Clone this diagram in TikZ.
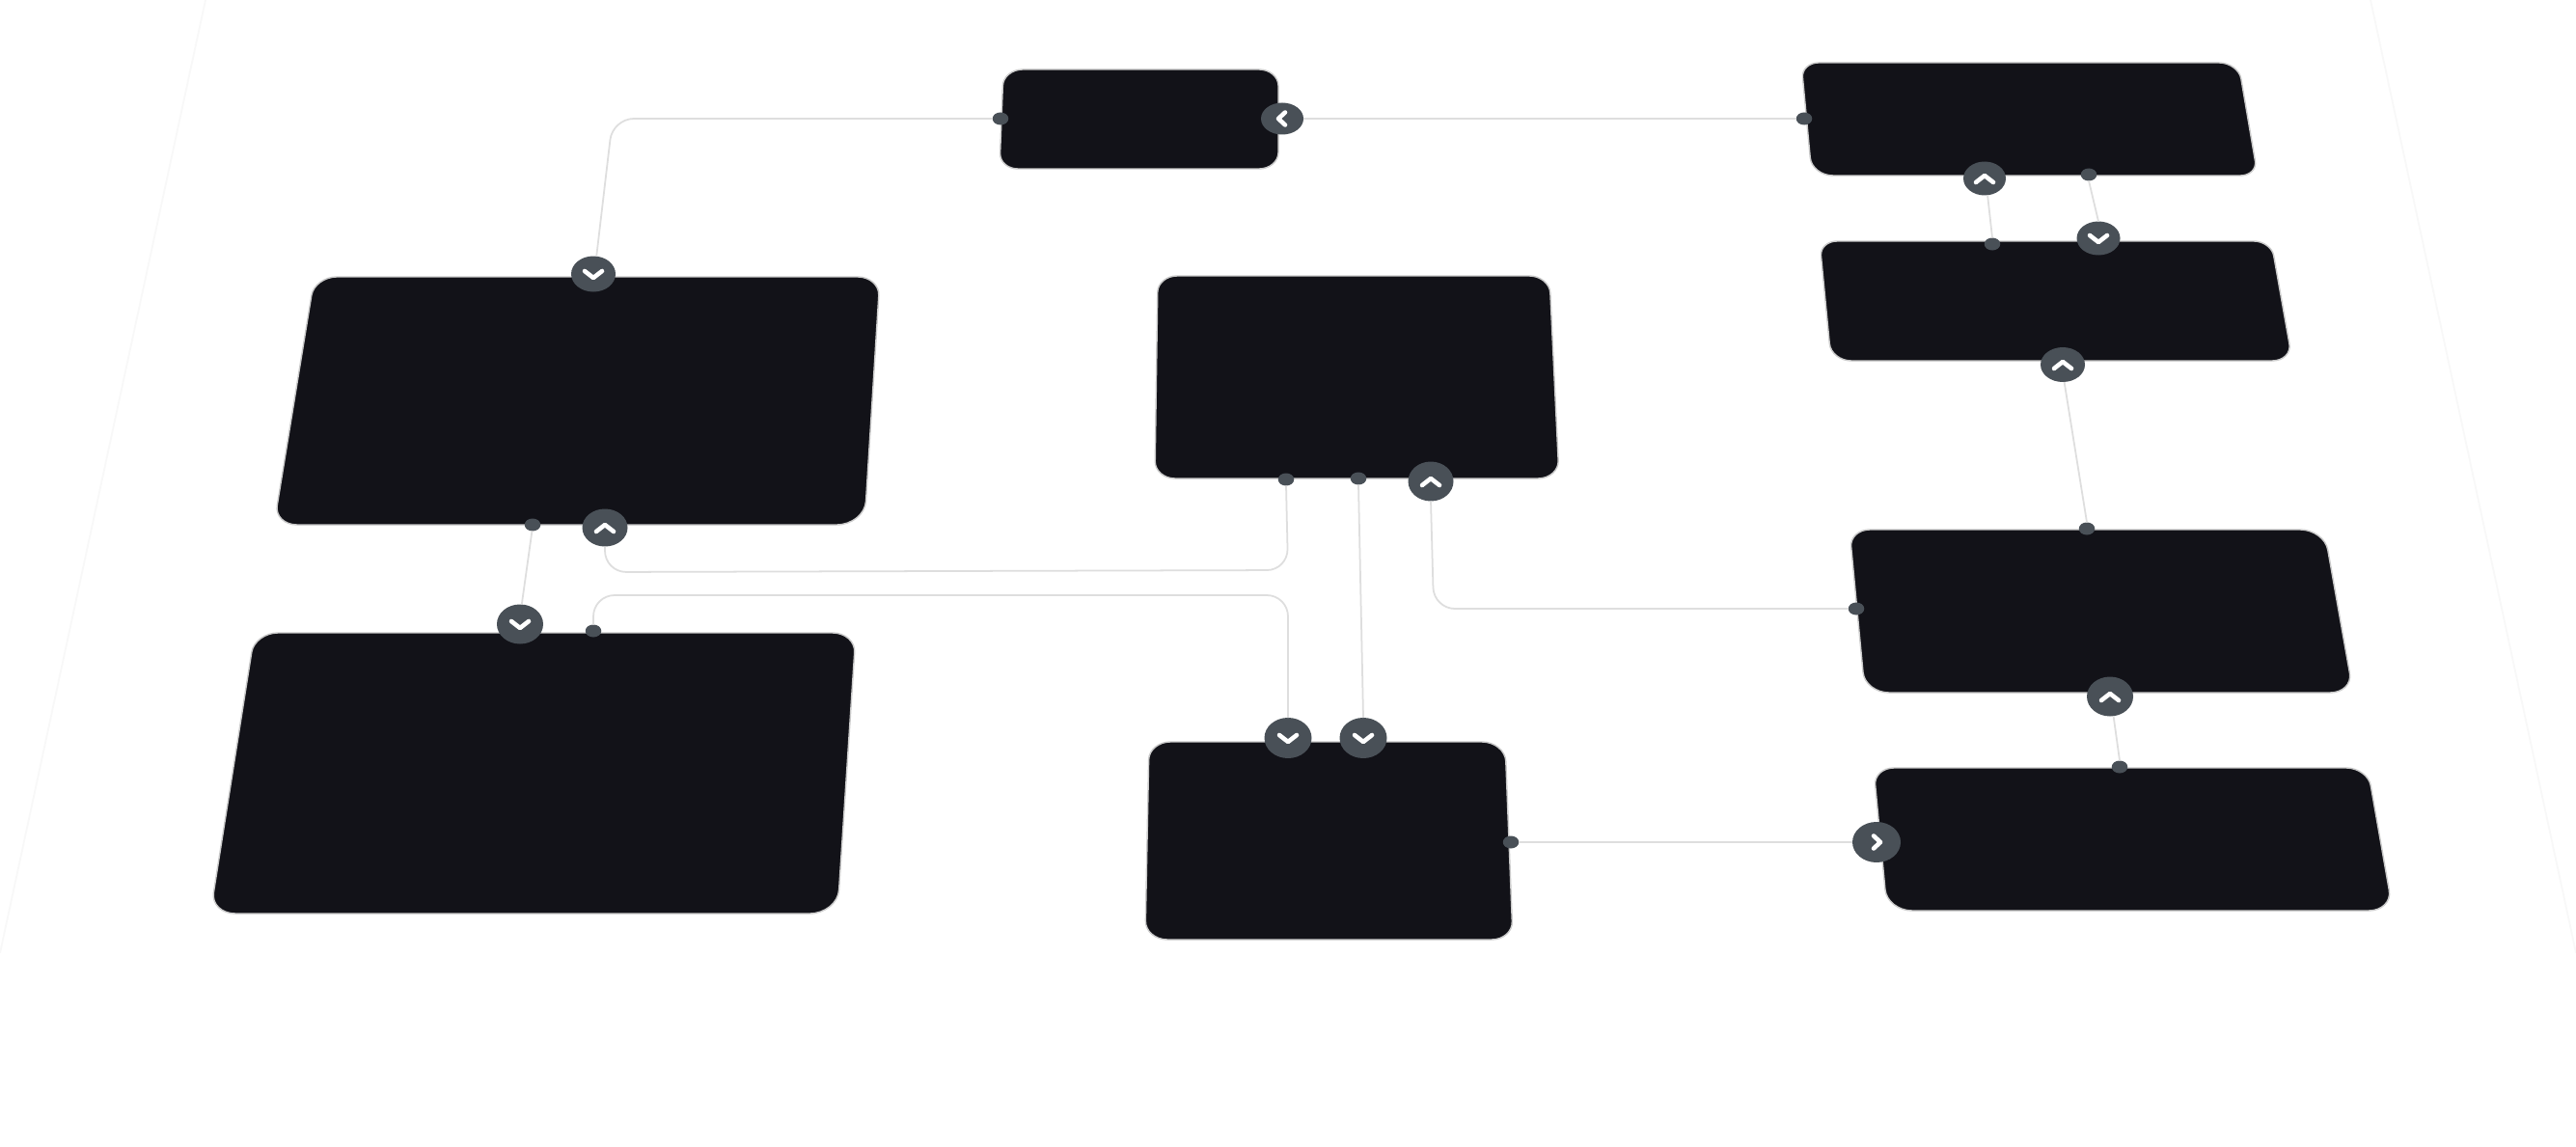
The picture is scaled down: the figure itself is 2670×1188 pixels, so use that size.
\documentclass[tikz,border=0pt]{standalone}
\usetikzlibrary{shapes.geometric,calc}
\definecolor{blockdark}{HTML}{121218}
\definecolor{handlegray}{HTML}{495057}
\definecolor{wiregray}{HTML}{DEDEDE}
\definecolor{edgegray}{HTML}{CACACA}
\definecolor{floorgray}{HTML}{F8F8F8}
\newcommand{\blockcorner}[4]{.. controls ($(#2)!#4*.0045cm!(#1)$) and ($(#2)!#4*.0038cm!(#3)$) .. ($(#2)!#4*.0085cm!(#3)$)}
\newcommand{\blockcornerb}[4]{.. controls ($(#2)!#4*.0038cm!(#1)$) and ($(#2)!#4*.0045cm!(#3)$) .. ($(#2)!#4*.01cm!(#3)$)}
\newcommand{\blockbody}[8]{\draw[block]
 ($(#1)!#5*.01cm!(#2)$) -- ($(#2)!#6*.01cm!(#1)$) \blockcorner{#1}{#2}{#3}{#6}
 -- ($(#3)!#7*.0085cm!(#2)$) \blockcornerb{#2}{#3}{#4}{#7}
 -- ($(#4)!#8*.01cm!(#3)$) \blockcorner{#3}{#4}{#1}{#8}
 -- ($(#1)!#5*.0085cm!(#4)$) \blockcornerb{#4}{#1}{#2}{#5} -- cycle;}
\newcommand{\chevup}[1]{\draw[chevron] ([shift={(-9,4)}]#1.center) -- ++(9,-7) -- ++(9,7);}
\newcommand{\chevdown}[1]{\draw[chevron] ([shift={(-9,-3)}]#1.center) -- ++(9,7) -- ++(9,-7);}
\newcommand{\chevleft}[1]{\draw[chevron] ([shift={(3,-6.5)}]#1.center) -- ++(-7,6.5) -- ++(7,6.5);}
\newcommand{\chevright}[1]{\draw[chevron] ([shift={(-3,-6.5)}]#1.center) -- ++(7,6.5) -- ++(-7,6.5);}
\begin{document}
\begin{tikzpicture}[x=.01cm,y=-.01cm,inner sep=0pt,outer sep=0pt,
block/.style={fill=blockdark,draw=edgegray,line width=.4pt},
port/.style={ellipse,fill=handlegray,minimum width=.165cm,minimum height=.13cm},
handle/.style 2 args={ellipse,fill=handlegray,minimum width=#1*.01cm,minimum height=#2*.01cm},
wire/.style={draw=wiregray,line width=.5pt,rounded corners=.22cm},
chevron/.style={draw=white,line width=1.3pt,line cap=round,line join=round}]
\useasboundingbox (0,0) rectangle (2670,1188);
\fill[white] (0,0) rectangle (2670,1188);
% floor edges
\draw[floorgray,line width=.5pt] (213,0) -- (0,988);
\draw[floorgray,line width=.5pt] (2457,0) -- (2670,988);
% blocks
\blockbody{1040,72}{1325,72}{1325,175}{1036,175}{20}{20}{20}{19}
\blockbody{1867,65}{2320,65}{2340,182}{1878,182}{18}{20}{18}{22}
\blockbody{1886,250}{2354,250}{2376,374}{1898,374}{18}{18}{21}{21}
\blockbody{326,287}{912,287}{896,544}{284,544}{23}{23}{29}{24}
\blockbody{1200,286}{1606,286}{1616,496}{1197,496}{20}{21}{22}{21}
\blockbody{1917,549}{2409,549}{2439,718}{1933,718}{21}{25}{24}{25}
\blockbody{264,656}{887,656}{868,947}{218,947}{24}{24}{29}{26}
\blockbody{1191,769}{1560,769}{1568,974}{1187,974}{22}{24}{22}{23}
\blockbody{1942,796}{2454,796}{2480,944}{1956,944}{21}{22}{25}{26}
% small ports
\draw (1037,123) node[port] (portA) {};
\draw (1870,123) node[port] (portB) {};
\draw (2165,181) node[port] (portBout) {};
\draw (2065,253) node[port] (portC) {};
\draw (552,544) node[port] (portD) {};
\draw (615,654) node[port] (portG) {};
\draw (1333,497) node[port] (portE1) {};
\draw (1408,496) node[port] (portE2) {};
\draw (1924,631) node[port] (portF1) {};
\draw (2163,548) node[port] (portF2) {};
\draw (1566,873) node[port] (portH) {};
\draw (2197,795) node[port] (portI) {};
% handles
\draw (1329,123) node[handle={44}{33}] (hndA) {};
\draw (615,284) node[handle={46}{37}] (hndD1) {};
\draw (627,547) node[handle={47}{39}] (hndD2) {};
\draw (539,647) node[handle={48}{41}] (hndG) {};
\draw (1483,499) node[handle={47}{41}] (hndE) {};
\draw (1335,765) node[handle={49}{42}] (hndH1) {};
\draw (1413,765) node[handle={49}{42}] (hndH2) {};
\draw (1945,873) node[handle={50}{42}] (hndI1) {};
\draw (2187,722) node[handle={48}{41}] (hndF) {};
\draw (2057,185) node[handle={44}{35}] (hndB) {};
\draw (2175,247) node[handle={45}{35}] (hndC1) {};
\draw (2138,378) node[handle={46}{36}] (hndC2) {};
% chevrons
\chevleft{hndA}
\chevdown{hndD1}
\chevup{hndD2}
\chevdown{hndG}
\chevup{hndE}
\chevdown{hndH1}
\chevdown{hndH2}
\chevright{hndI1}
\chevup{hndF}
\chevup{hndB}
\chevdown{hndC1}
\chevup{hndC2}
% connectors
\draw[wire] (portA.180) -- (635,123) -- (hndD1.80);
\draw[wire] (hndA.0) -- (portB.180);
\draw[wire] (hndB.-80) -- (portC.90);
\draw[wire] (portBout.-90) -- (hndC1.90);
\draw[wire] (hndC2.-85) -- (portF2.90);
\draw[wire] (hndF.-80) -- (portI.90);
\draw[wire] (portD.-95) -- (hndG.85);
\draw[wire] (hndD2.-90) -- (627,593) -- (1335,591) -- (portE1.-90);
\draw[wire] (portG.90) -- (615,617) -- (1335,617) -- (hndH1.90);
\draw[wire] (portE2.-90) -- (hndH2.90);
\draw[wire] (hndE.-90) -- (1486,631) -- (portF1.180);
\draw[wire] (portH.0) -- (hndI1.180);
\end{tikzpicture}
\end{document}
